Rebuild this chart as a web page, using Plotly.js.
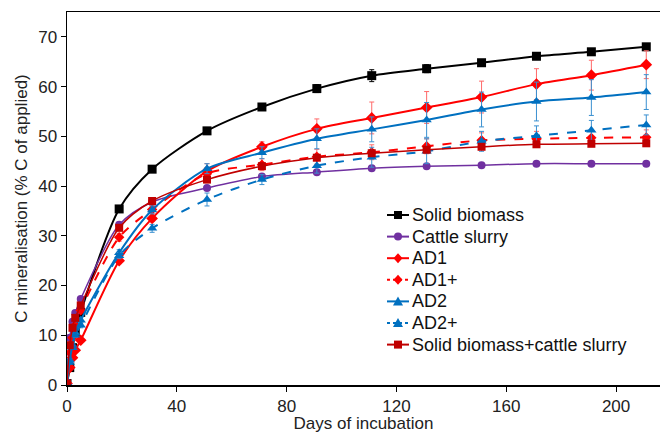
<!DOCTYPE html>
<html>
<head>
<meta charset="utf-8">
<script src="https://cdn.plot.ly/plotly-3.0.1.min.js"></script>
<style>html,body{margin:0;padding:0;background:#fff;}#chart{width:670px;height:433px;}</style>
</head>
<body>
<div id="chart"></div>
<script>
const days = [0, 1, 2, 3, 5, 19, 31, 51, 71, 91, 111, 131, 151, 171, 191, 211];

const solidBiomass = [0.3, 3.5, 7.5, 10.5, 14.6, 35.4, 43.4, 51.1, 55.9, 59.6, 62.2, 63.6, 64.8, 66.1, 67.0, 68.0];
const solidBiomassErr = [0, 0.2, 0.3, 0.3, 0.4, 0.5, 0.6, 0.6, 0.6, 0.8, 1.2, 0.8, 0.5, 0.6, 0.5, 0.5];

const cattleSlurry = [0.5, 9.5, 12.7, 14.5, 17.3, 32.2, 36.8, 39.6, 41.9, 42.8, 43.6, 44.0, 44.2, 44.5, 44.5, 44.5];
const cattleSlurryErr = [0, 0.3, 0.3, 0.3, 0.4, 0.5, 0.8, 0.5, 0.4, 0.4, 0.4, 0.4, 0.4, 0.4, 0.4, 0.4];

const ad1 = [0.3, 3.5, 5.5, 7.0, 9.0, 25.0, 33.5, 43.0, 47.9, 51.5, 53.7, 55.8, 57.9, 60.5, 62.3, 64.4];
const ad1Err = [0, 0.3, 0.3, 0.3, 0.4, 0.6, 0.6, 1.5, 1.0, 2.0, 3.2, 3.2, 3.2, 3.1, 3.0, 2.8];

const ad1Plus = [0.3, 6.5, 9.5, 12.0, 15.0, 29.7, 35.3, 42.5, 44.3, 45.9, 46.8, 48.0, 49.2, 49.5, 49.7, 49.8];
const ad1PlusErr = [0, 0.3, 0.3, 0.3, 0.4, 0.8, 0.8, 1.2, 1.2, 1.5, 1.5, 1.5, 1.5, 1.5, 1.5, 1.5];

const ad2 = [0.5, 5.0, 8.0, 10.5, 13.0, 26.6, 35.2, 43.5, 46.7, 49.5, 51.4, 53.3, 55.4, 57.0, 57.8, 58.9];
const ad2Err = [0, 0.3, 0.3, 0.4, 0.5, 0.6, 0.8, 1.0, 1.2, 2.0, 2.5, 3.5, 3.5, 3.9, 3.6, 3.5];

const ad2Plus = [0.4, 4.5, 7.5, 10.0, 12.0, 26.0, 31.5, 37.3, 41.3, 44.1, 45.8, 47.0, 49.0, 50.1, 51.2, 52.3];
const ad2PlusErr = [0, 0.3, 0.3, 0.4, 0.5, 0.6, 0.8, 1.3, 1.0, 1.5, 2.0, 2.5, 2.0, 2.0, 2.0, 2.0];

const sbcs = [0.3, 8.0, 11.5, 13.5, 16.0, 31.6, 37.0, 41.3, 44.0, 45.7, 46.6, 47.3, 47.9, 48.4, 48.5, 48.6];
const sbcsErr = [0, 0.3, 0.3, 0.3, 0.4, 0.5, 0.6, 0.6, 0.5, 0.5, 0.5, 0.5, 0.5, 0.5, 0.5, 0.5];

const names = ["Solid biomass", "Cattle slurry", "AD1", "AD1+", "AD2", "AD2+", "Solid biomass+cattle slurry"];
const colors = ["#000000", "#7030A0", "#FF0000", "#FF0000", "#0070C0", "#0070C0", "#C00000"];
const errColors = ["#000000", "#9a6fc0", "#ff6a6a", "#ff6a6a", "#3a90d0", "#3a90d0", "#d04040"];
const symbols = ["square", "circle", "diamond", "diamond", "triangle-up", "triangle-up", "square"];
const dashes = ["solid", "solid", "solid", "dash", "solid", "dash", "solid"];
const series = [solidBiomass, cattleSlurry, ad1, ad1Plus, ad2, ad2Plus, sbcs];
const errors = [solidBiomassErr, cattleSlurryErr, ad1Err, ad1PlusErr, ad2Err, ad2PlusErr, sbcsErr];
const xTicks = [0, 40, 80, 120, 160, 200];
const yTicks = [0, 10, 20, 30, 40, 50, 60, 70];

const mSizes = [9, 8, 9, 8, 9, 9, 8];
const lWidths = [2, 1.5, 2, 2, 2, 2, 1.5];

const data = series.map((y, i) => ({
  x: days, y: y, name: names[i], type: "scatter", mode: "lines+markers", showlegend: false,
  line: {color: colors[i], width: lWidths[i], dash: dashes[i], shape: "spline", smoothing: 0.8},
  marker: {color: colors[i], symbol: symbols[i], size: mSizes[i]},
  error_y: {type: "data", array: errors[i], visible: true, color: errColors[i], thickness: 1, width: 2.5}
}));

// Manual legend (plot area: left 67, width 593, bottom 385, height 373 px)
const L = 67, W = 593, B = 385, H = 373;
const px = v => (v - L) / W;
const py = v => (B - v) / H;
const rowY0 = 215, rowStep = 21.6;
const shapes = [];
const annotations = [];
const glyphPaths = {
  "diamond": "M0,5 L4.5,0 L0,-5 L-4.5,0 Z",
  "triangle-up": "M-5,-4 L5,-4 L0,5 Z"
};
names.forEach((n, i) => {
  const yy = py(rowY0 + i * rowStep);
  shapes.push({type: "line", xref: "paper", yref: "paper", x0: px(387), x1: px(409), y0: yy, y1: yy,
    line: {color: colors[i], width: 2, dash: dashes[i] === "dash" ? "3px,3px" : "solid"}});
  const s = symbols[i];
  const base = {xref: "paper", yref: "paper", xsizemode: "pixel", ysizemode: "pixel",
    xanchor: px(398), yanchor: yy, fillcolor: colors[i], line: {color: colors[i], width: 0}};
  if (s === "square") {
    shapes.push(Object.assign({type: "rect", x0: -4, x1: 4, y0: -4, y1: 4}, base));
  } else if (s === "circle") {
    shapes.push(Object.assign({type: "circle", x0: -4, x1: 4, y0: -4, y1: 4}, base));
  } else {
    shapes.push(Object.assign({type: "path", path: glyphPaths[s]}, base));
  }
  annotations.push({xref: "paper", yref: "paper", x: px(410), y: yy, xanchor: "left", yanchor: "middle",
    text: n, showarrow: false, font: {family: "Arial, 'Liberation Sans', sans-serif", size: 18, color: "#111"}});
});

const font = "Arial, 'Liberation Sans', sans-serif";
const layout = {
  width: 670, height: 433,
  margin: {l: 67, r: 10, t: 12, b: 48},
  paper_bgcolor: "#fff", plot_bgcolor: "#fff",
  font: {family: font, size: 17, color: "#000"},
  showlegend: false,
  shapes: shapes,
  annotations: annotations,
  xaxis: {
    range: [0, 216], tickvals: xTicks,
    showgrid: false, zeroline: false, showline: true, linecolor: "#000", linewidth: 1.5,
    mirror: true, ticks: "outside", ticklen: 5, tickcolor: "#000",
    tickfont: {family: font, size: 17, color: "#222"},
    title: {text: "Days of incubation", font: {family: font, size: 17, color: "#222"}, standoff: 1}
  },
  yaxis: {
    range: [0, 75], tickvals: yTicks,
    showgrid: false, zeroline: false, showline: true, linecolor: "#000", linewidth: 1.5,
    ticks: "outside", ticklen: 5, tickcolor: "#000",
    tickfont: {family: font, size: 17, color: "#222"},
    title: {text: "C mineralisation (% C of applied)", font: {family: font, size: 17, color: "#222"}, standoff: 6}
  }
};

Plotly.newPlot("chart", data, layout, {displayModeBar: false, staticPlot: true});
</script>
</body>
</html>
